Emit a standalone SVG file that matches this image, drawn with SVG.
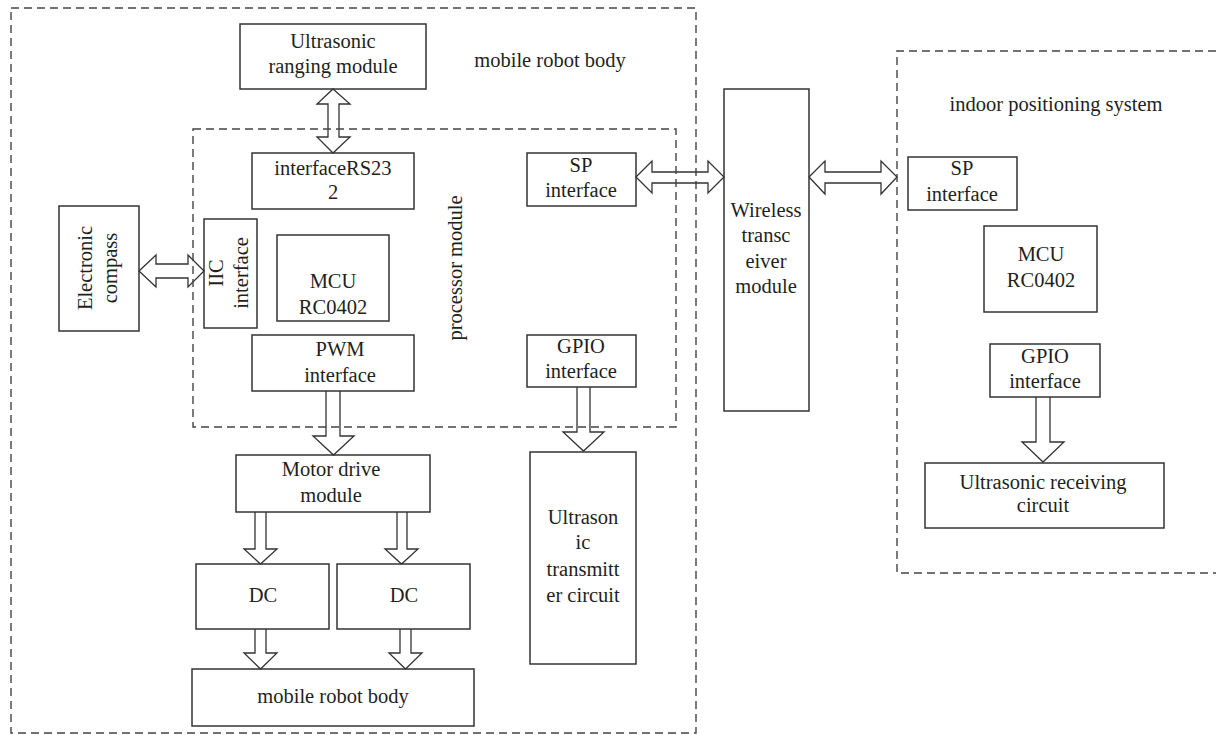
<svg xmlns="http://www.w3.org/2000/svg" width="1216" height="735" viewBox="0 0 1216 735" font-family="Liberation Serif" font-size="20.5">
<style>
text{fill:#231f20;text-anchor:middle}
.box{fill:#fff;stroke:#333;stroke-width:1.5}
.dash{fill:none;stroke:#444;stroke-width:1.4;stroke-dasharray:8 5}
.arr{fill:none;stroke:#333;stroke-width:1.3;stroke-linejoin:miter}
</style>
<rect width="1216" height="735" fill="#fff"/>
<g id="containers">
<rect class="dash" x="11" y="8" width="685" height="725"/>
<path class="dash" d="M1216,51 L897,51 L897,573 L1216,573"/>
</g>
<g id="nodes" font-family="Liberation Serif">
<g id="ranging"><rect class="box" x="240" y="24" width="186" height="65"/><text x="333" y="48">Ultrasonic</text><text x="333" y="73">ranging module</text></g>
<g id="rs232"><rect class="box" x="252" y="153" width="162" height="56"/><text x="333" y="175">interfaceRS23</text><text x="333" y="199">2</text></g>
<g id="iic"><rect class="box" x="204" y="219" width="53" height="109"/><text transform="translate(223,273) rotate(-90)">IIC</text><text transform="translate(248,273) rotate(-90)">interface</text></g>
<g id="mcu1"><rect class="box" x="277" y="235" width="112" height="86"/><text x="333" y="288">MCU</text><text x="333" y="314">RC0402</text></g>
<g id="pwm"><rect class="box" x="252" y="335" width="162" height="56"/><text x="340" y="356">PWM</text><text x="340" y="382">interface</text></g>
<g id="compass"><rect class="box" x="59" y="206" width="80" height="125"/><text transform="translate(92,268) rotate(-90)">Electronic</text><text transform="translate(117,268) rotate(-90)">compass</text></g>
<g id="sp1"><rect class="box" x="527" y="153" width="109" height="53"/><text x="581" y="172">SP</text><text x="581" y="197">interface</text></g>
<g id="gpio1"><rect class="box" x="527" y="335" width="109" height="52"/><text x="581" y="353">GPIO</text><text x="581" y="378">interface</text></g>
<g id="motor"><rect class="box" x="236" y="455" width="194" height="57"/><text x="331" y="476">Motor drive</text><text x="331" y="502">module</text></g>
<g id="dc1"><rect class="box" x="196" y="564" width="133" height="65"/><text x="263" y="602">DC</text></g>
<g id="dc2"><rect class="box" x="337" y="564" width="133" height="65"/><text x="404" y="602">DC</text></g>
<g id="body"><rect class="box" x="192" y="669" width="282" height="57"/><text x="333" y="703">mobile robot body</text></g>
<g id="transmitter"><rect class="box" x="530" y="452" width="106" height="212"/><text x="583" y="524">Ultrason</text><text x="583" y="549">ic</text><text x="583" y="576">transmitt</text><text x="583" y="602">er circuit</text></g>
<g id="wireless"><rect class="box" x="724" y="89" width="85" height="322"/><text x="766" y="217">Wireless</text><text x="766" y="242">transc</text><text x="766" y="268">eiver</text><text x="766" y="293">module</text></g>
<g id="sp2"><rect class="box" x="908" y="157" width="109" height="53"/><text x="962" y="175">SP</text><text x="962" y="201">interface</text></g>
<g id="mcu2"><rect class="box" x="984" y="226" width="113" height="86"/><text x="1041" y="261">MCU</text><text x="1041" y="287">RC0402</text></g>
<g id="gpio2"><rect class="box" x="990" y="344" width="110" height="53"/><text x="1045" y="363">GPIO</text><text x="1045" y="388">interface</text></g>
<g id="receiving"><rect class="box" x="925" y="463" width="239" height="65"/><text x="1043" y="489">Ultrasonic receiving</text><text x="1043" y="512">circuit</text></g>
</g>
<g id="labels" font-family="Liberation Serif">
<text x="550" y="67">mobile robot body</text>
<text transform="translate(462,268) rotate(-90)">processor module</text>
<text x="1056" y="111">indoor positioning system</text>
</g>
<g id="connectors">
<path class="arr" d="M333,89 L350,104 L339,104 L339,137 L350,137 L333,153 L317,137 L328,137 L328,104 L317,104 Z"/>
<path class="arr" d="M139,271 L156,255 L156,264 L188,264 L188,255 L204,271 L188,287 L188,278 L156,278 L156,287 Z"/>
<path class="arr" d="M636,177 L652,161 L652,172 L708,172 L708,161 L724,177 L708,193 L708,183 L652,183 L652,193 Z"/>
<path class="arr" d="M809,177 L825,161 L825,172 L881,172 L881,161 L897,177 L881,194 L881,183 L825,183 L825,194 Z"/>
<path class="arr" d="M326,391 L326,436 L313,436 L333.5,455 L354,436 L340,436 L340,391"/>
<path class="arr" d="M577,387 L577,432 L563,432 L583.5,451 L604,432 L590,432 L590,387"/>
<path class="arr" d="M255,512 L255,549 L244,549 L260.5,564 L277,549 L266,549 L266,512"/>
<path class="arr" d="M397,512 L397,549 L385,549 L401.5,564 L418,549 L407,549 L407,512"/>
<path class="arr" d="M255,629 L255,653 L244,653 L260.5,669 L277,653 L266,653 L266,629"/>
<path class="arr" d="M400,629 L400,653 L389,653 L405.5,669 L422,653 L411,653 L411,629"/>
<path class="arr" d="M1036,397 L1036,442 L1022,442 L1043,462 L1064,442 L1050,442 L1050,397"/>
</g>
<g id="processor-frame">
<rect class="dash" x="193" y="129" width="483" height="298"/>
</g>
</svg>
